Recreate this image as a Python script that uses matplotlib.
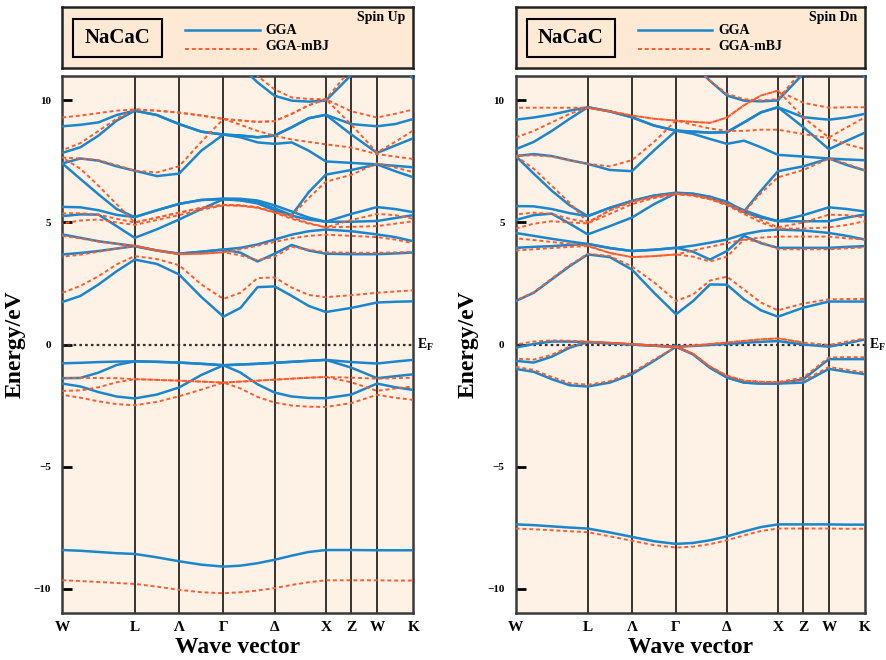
import matplotlib.pyplot as plt
from matplotlib.patches import Rectangle

plt.rcParams['font.family'] = ['Liberation Serif', 'DejaVu Serif']
plt.rcParams['font.weight'] = 'bold'
plt.rcParams['axes.labelweight'] = 'bold'
plt.rcParams['mathtext.fontset'] = 'custom'
plt.rcParams['mathtext.rm'] = 'Liberation Serif:bold'
plt.rcParams['mathtext.bf'] = 'Liberation Serif:bold'

# path W-L-Gamma-X-W-K, distances in 2pi/a
kpath = [0.000, 0.177, 0.354, 0.530, 0.707, 0.924, 1.140, 1.357, 1.573,
         1.740, 1.906, 2.073, 2.240, 2.406, 2.573, 2.823, 3.073, 3.250, 3.427]
sym_pos = [0.000, 0.707, 1.140, 1.573, 2.073, 2.573, 2.823, 3.073, 3.427]
sym_lab = ['W', 'L', 'Λ', 'Γ', 'Δ', 'X', 'Z', 'W', 'K']
TOP = [12.0] * 9   # branch above the window on W-L-Gamma
NA = float('nan')

# ---------------- spin up, GGA ----------------
up_gga_deep = [-8.42, -8.45, -8.5, -8.55, -8.58, -8.72, -8.88, -9.02, -9.1, -9.06, -8.96, -8.82, -8.65, -8.5, -8.42, -8.42, -8.43, -8.43, -8.43]
up_gga_v1 = [-0.77, -0.75, -0.72, -0.70, -0.69, -0.71, -0.74, -0.79, -0.85, -0.82, -0.79, -0.75, -0.71, -0.67, -0.63, -0.72, -0.78, -0.70, -0.63]
up_gga_v2 = [-1.38, -1.37, -1.15, -0.84, -0.69, -0.71, -0.74, -0.79, -0.85, -0.82, -0.79, -0.75, -0.71, -0.67, -0.63, -0.95, -1.38, -1.30, -1.22]
up_gga_v3 = [-1.60, -1.72, -1.95, -2.13, -2.21, -2.05, -1.76, -1.25, -0.85, -1.15, -1.63, -1.97, -2.13, -2.19, -2.20, -2.05, -1.60, -1.75, -1.86]
up_gga_c1 = [1.74, 1.99, 2.46, 3.0, 3.48, 3.3, 2.87, 1.95, 1.14, 1.50, 2.35, 2.38, 1.99, 1.58, 1.33, 1.5, 1.72, 1.75, 1.77]
up_gga_c2 = [3.69, 3.75, 3.83, 3.93, 4.03, 3.85, 3.72, 3.8, 3.89, 3.76, 3.40, 3.72, 4.08, 3.85, 3.72, 3.70, 3.70, 3.73, 3.77]
up_gga_c3 = [4.51, 4.37, 4.23, 4.13, 4.03, 3.85, 3.72, 3.8, 3.89, 3.96, 4.10, 4.30, 4.50, 4.64, 4.71, 4.64, 4.51, 4.4, 4.23]
up_gga_c4 = [5.26, 5.33, 5.32, 4.85, 4.37, 4.72, 5.12, 5.55, 5.95, 5.9, 5.78, 5.5, 5.28, 5.12, 5.03, 5.03, 5.06, 5.18, 5.3]
up_gga_c5 = [5.64, 5.62, 5.50, 5.31, 5.22, 5.5, 5.76, 5.92, 5.98, 5.97, 5.9, 5.7, 5.45, 5.2, 5.03, 5.35, 5.63, 5.55, 5.42]
up_gga_c6 = [7.42, 6.78, 6.15, 5.55, 5.22, 5.5, 5.76, 5.92, 5.95, 5.92, 5.82, 5.58, 5.30, 6.24, 6.96, 7.15, 7.38, 7.1, 6.85]
up_gga_c7 = [7.42, 7.62, 7.53, 7.3, 7.12, 6.9, 7.0, 7.94, 8.6, 8.49, 8.28, 8.22, 8.28, 7.94, 7.5, 7.44, 7.38, 7.32, 7.26]
up_gga_c8 = [7.85, 8.08, 8.56, 9.17, 9.58, 9.4, 9.03, 8.72, 8.6, 8.56, 8.49, 8.56, 8.9, 9.27, 9.41, 8.6, 7.85, 8.15, 8.45]
up_gga_c9 = [8.94, 9.0, 9.1, 9.4, 9.58, 9.4, 9.03, 8.72, 8.6, 8.56, 8.49, 8.56, 8.9, 9.27, 9.41, 9.03, 8.94, 9.03, 9.24]
up_gga_c10 = TOP + [11.4, 10.74, 10.19, 9.99, 9.95, 9.99, 11.05, 12.5, 11.8, 10.87]

# ---------------- spin up, GGA-mBJ ----------------
up_mbj_deep = [-9.66, -9.69, -9.73, -9.77, -9.81, -9.92, -10.05, -10.15, -10.19, -10.15, -10.08, -9.98, -9.85, -9.74, -9.66, -9.66, -9.66, -9.67, -9.67]
up_mbj_v1 = [-1.38, -1.37, -1.37, -1.38, -1.42, -1.45, -1.48, -1.52, -1.56, -1.52, -1.48, -1.44, -1.40, -1.36, -1.33, -1.36, -1.40, -1.38, -1.36]
up_mbj_v2 = [-1.90, -1.88, -1.75, -1.55, -1.42, -1.45, -1.48, -1.52, -1.56, -1.52, -1.48, -1.44, -1.40, -1.36, -1.33, -1.55, -1.90, -1.80, -1.72]
up_mbj_v3 = [-2.06, -2.18, -2.33, -2.44, -2.49, -2.35, -2.12, -1.85, -1.56, -1.8, -2.15, -2.38, -2.5, -2.55, -2.56, -2.40, -2.06, -2.18, -2.27]
up_mbj_c1 = [2.12, 2.4, 2.8, 3.28, 3.62, 3.5, 3.25, 2.46, 1.87, 2.12, 2.72, 2.75, 2.33, 2.03, 1.94, 2.02, 2.12, 2.17, 2.22]
up_mbj_c2 = [3.6, 3.68, 3.8, 3.93, 4.05, 3.85, 3.7, 3.72, 3.78, 3.65, 3.45, 3.6, 4.0, 3.88, 3.78, 3.76, 3.76, 3.77, 3.8]
up_mbj_c3 = [4.45, 4.35, 4.22, 4.12, 4.05, 3.85, 3.7, 3.72, 3.78, 3.9, 4.05, 4.2, 4.35, 4.45, 4.5, 4.45, 4.4, 4.3, 4.15]
up_mbj_c4 = [4.96, 5.08, 5.12, 5.0, 4.9, 5.1, 5.3, 5.52, 5.7, 5.68, 5.6, 5.4, 5.15, 4.95, 4.8, 4.82, 4.85, 4.95, 5.05]
up_mbj_c5 = [5.37, 5.38, 5.32, 5.15, 5.0, 5.2, 5.4, 5.6, 5.72, 5.7, 5.62, 5.42, 5.2, 4.98, 4.8, 5.1, 5.35, 5.3, 5.15]
up_mbj_c6 = [7.66, 7.2, 6.5, 5.75, 5.0, 5.2, 5.4, 5.6, 5.72, 5.7, 5.62, 5.42, 5.28, 6.0, 6.67, 6.95, 7.43, 7.25, 7.06]
up_mbj_c7 = [7.66, 7.62, 7.55, 7.35, 7.12, 7.05, 7.3, 8.3, 9.24, 9.0, 8.75, 8.55, 8.4, 8.3, 8.2, 8.07, 7.8, 7.7, 7.6]
up_mbj_c8 = [7.96, 8.25, 8.75, 9.25, 9.63, 9.58, 9.5, 9.38, 9.24, 9.18, 9.12, 9.15, 9.45, 9.8, 10.05, 9.0, 7.87, 8.3, 8.77]
up_mbj_c9 = [9.3, 9.38, 9.48, 9.58, 9.63, 9.58, 9.5, 9.38, 9.24, 9.18, 9.12, 9.15, 9.45, 9.8, 10.05, 9.55, 9.3, 9.45, 9.63]
up_mbj_c10 = TOP + [11.6, 11.0, 10.45, 10.12, 10.06, 10.05, 11.3, 12.5, 12.0, 11.4]

# ---------------- spin down, GGA ----------------
dn_gga_deep = [-7.37, -7.4, -7.45, -7.5, -7.54, -7.7, -7.88, -8.06, -8.17, -8.13, -8.02, -7.86, -7.66, -7.48, -7.37, -7.37, -7.37, -7.38, -7.38]
dn_gga_v1 = [-0.13, 0.02, 0.12, 0.12, 0.1, 0.05, 0.0, -0.05, -0.09, -0.06, -0.02, 0.02, 0.07, 0.11, 0.14, 0.0, -0.09, 0.05, 0.21]
dn_gga_v2 = [-0.67, -0.74, -0.5, -0.13, 0.1, 0.05, 0.0, -0.05, -0.09, -0.4, -0.95, -1.35, -1.56, -1.6, -1.6, -1.42, -0.6, -0.6, -0.6]
dn_gga_v3 = [-1.0, -1.12, -1.42, -1.67, -1.72, -1.56, -1.22, -0.67, -0.09, -0.4, -0.95, -1.35, -1.56, -1.6, -1.6, -1.56, -1.0, -1.12, -1.22]
dn_gga_c1 = [1.78, 2.12, 2.67, 3.21, 3.69, 3.58, 3.07, 2.12, 1.24, 1.78, 2.46, 2.45, 1.85, 1.4, 1.14, 1.51, 1.76, 1.76, 1.76]
dn_gga_c2 = [3.96, 4.0, 4.03, 4.08, 4.12, 3.95, 3.83, 3.88, 3.96, 3.80, 3.48, 3.83, 4.45, 4.15, 3.96, 3.96, 3.96, 4.0, 4.03]
dn_gga_c3 = [4.57, 4.45, 4.33, 4.22, 4.12, 3.95, 3.83, 3.88, 3.96, 4.05, 4.17, 4.3, 4.52, 4.65, 4.71, 4.67, 4.57, 4.45, 4.3]
dn_gga_c4 = [5.1, 5.3, 5.36, 4.95, 4.51, 4.85, 5.2, 5.75, 6.2, 6.15, 6.0, 5.75, 5.42, 5.2, 5.05, 5.05, 5.05, 5.2, 5.33]
dn_gga_c5 = [5.67, 5.66, 5.55, 5.38, 5.26, 5.6, 5.88, 6.1, 6.22, 6.18, 6.05, 5.8, 5.5, 5.25, 5.05, 5.3, 5.62, 5.55, 5.45]
dn_gga_c6 = [7.72, 7.0, 6.3, 5.7, 5.26, 5.6, 5.88, 6.1, 6.2, 6.17, 6.05, 5.85, 5.45, 6.3, 7.1, 7.3, 7.62, 7.35, 7.13]
dn_gga_c7 = [7.72, 7.8, 7.72, 7.55, 7.4, 7.15, 7.1, 7.95, 8.76, 8.63, 8.42, 8.22, 8.35, 8.08, 7.77, 7.7, 7.62, 7.58, 7.55]
dn_gga_c8 = [8.0, 8.3, 8.75, 9.25, 9.72, 9.55, 9.31, 8.97, 8.76, 8.72, 8.68, 8.7, 9.1, 9.51, 9.72, 8.9, 8.0, 8.35, 8.68]
dn_gga_c9 = [9.21, 9.3, 9.42, 9.58, 9.72, 9.55, 9.31, 8.97, 8.76, 8.72, 8.68, 8.7, 9.1, 9.51, 9.72, 9.31, 9.21, 9.3, 9.45]
dn_gga_c10 = TOP + [11.5, 10.8, 10.2, 9.99, 9.96, 10.0, 11.1, 12.5, 11.8, 10.95]

# ---------------- spin down, GGA-mBJ ----------------
dn_mbj_deep = [-7.54, -7.57, -7.61, -7.65, -7.69, -7.86, -8.04, -8.22, -8.32, -8.28, -8.18, -8.02, -7.82, -7.64, -7.54, -7.54, -7.54, -7.55, -7.55]
dn_mbj_v1 = [0.0, 0.12, 0.17, 0.15, 0.12, 0.07, 0.02, -0.05, -0.1, -0.05, 0.02, 0.08, 0.15, 0.21, 0.25, 0.08, -0.02, 0.12, 0.25]
# second, degenerate branch of the top band between Lambda and Z
dn_mbj_v1b = [NA, NA, NA, NA, NA, NA, 0.02, -0.05, -0.1, -0.05, 0.02, 0.08, 0.15, 0.21, 0.25, 0.08, NA, NA, NA]
dn_mbj_v2 = [-0.58, -0.62, -0.42, -0.08, 0.12, 0.07, 0.02, -0.05, -0.1, -0.38, -0.9, -1.28, -1.48, -1.53, -1.54, -1.35, -0.53, -0.52, -0.52]
dn_mbj_v3 = [-0.92, -1.04, -1.33, -1.58, -1.65, -1.5, -1.15, -0.62, -0.1, -0.38, -0.9, -1.28, -1.48, -1.53, -1.54, -1.48, -0.92, -1.04, -1.15]
dn_mbj_c1 = [1.8, 2.14, 2.7, 3.25, 3.72, 3.62, 3.2, 2.55, 1.78, 2.05, 2.62, 2.78, 2.25, 1.72, 1.4, 1.68, 1.85, 1.86, 1.87]
dn_mbj_c2 = [3.85, 3.9, 3.95, 4.0, 4.03, 3.75, 3.58, 3.62, 3.69, 3.6, 3.4, 3.6, 4.3, 4.2, 3.9, 3.9, 3.9, 3.94, 3.98]
dn_mbj_c3 = [4.35, 4.28, 4.2, 4.12, 4.05, 3.75, 3.58, 3.62, 3.69, 3.85, 4.0, 4.15, 4.3, 4.38, 4.42, 4.42, 4.42, 4.35, 4.3]
dn_mbj_c4 = [4.75, 4.95, 5.05, 5.0, 4.96, 5.35, 5.75, 6.0, 6.15, 6.1, 5.95, 5.7, 5.35, 5.0, 4.75, 4.75, 4.8, 4.9, 5.05]
dn_mbj_c5 = [5.33, 5.4, 5.35, 5.15, 5.0, 5.5, 5.85, 6.05, 6.18, 6.12, 6.0, 5.78, 5.45, 5.1, 4.8, 5.0, 5.32, 5.3, 5.2]
dn_mbj_c6 = [7.73, 7.2, 6.5, 5.8, 5.0, 5.5, 5.85, 6.05, 6.18, 6.1, 5.95, 5.75, 5.42, 6.2, 6.85, 7.15, 7.62, 7.4, 7.13]
dn_mbj_c7 = [7.73, 7.75, 7.7, 7.55, 7.4, 7.3, 7.55, 8.3, 9.18, 9.0, 8.85, 8.75, 8.75, 8.8, 8.8, 8.62, 8.45, 8.2, 8.0]
dn_mbj_c8 = [8.48, 8.75, 9.1, 9.45, 9.7, 9.55, 9.38, 9.25, 9.17, 9.12, 9.08, 9.3, 9.8, 10.2, 10.4, 9.3, 8.48, 8.9, 9.31]
dn_mbj_c9 = [9.7, 9.7, 9.7, 9.7, 9.7, 9.55, 9.38, 9.25, 9.17, 9.12, 9.08, 9.3, 9.8, 10.2, 10.4, 9.9, 9.7, 9.72, 9.72]
dn_mbj_c10 = TOP + [11.5, 10.8, 10.27, 10.05, 10.0, 10.05, 11.3, 12.5, 12.0, 11.8]

up_gga = [up_gga_deep, up_gga_v1, up_gga_v2, up_gga_v3, up_gga_c1, up_gga_c2, up_gga_c3,
          up_gga_c4, up_gga_c5, up_gga_c6, up_gga_c7, up_gga_c8, up_gga_c9, up_gga_c10]
up_mbj = [up_mbj_deep, up_mbj_v1, up_mbj_v2, up_mbj_v3, up_mbj_c1, up_mbj_c2, up_mbj_c3,
          up_mbj_c4, up_mbj_c5, up_mbj_c6, up_mbj_c7, up_mbj_c8, up_mbj_c9, up_mbj_c10]
dn_gga = [dn_gga_deep, dn_gga_v1, dn_gga_v2, dn_gga_v3, dn_gga_c1, dn_gga_c2, dn_gga_c3,
          dn_gga_c4, dn_gga_c5, dn_gga_c6, dn_gga_c7, dn_gga_c8, dn_gga_c9, dn_gga_c10]
dn_mbj = [dn_mbj_deep, dn_mbj_v1, dn_mbj_v1b, dn_mbj_v2, dn_mbj_v3, dn_mbj_c1, dn_mbj_c2,
          dn_mbj_c3, dn_mbj_c4, dn_mbj_c5, dn_mbj_c6, dn_mbj_c7, dn_mbj_c8, dn_mbj_c9, dn_mbj_c10]

BLUE = '#1c86cc'
RED = '#ff5a2c'
PANEL_BG = '#fdf2e5'
HEAD_BG = '#fde9d4'


def band_panel(ax, gga, mbj):
    ax.set_facecolor(PANEL_BG)
    for k in sym_pos[1:-1]:
        ax.axvline(k, color='k', lw=1.1, zorder=1)
    ax.axhline(0, color='#333333', lw=1.6, ls=(0, (1.2, 1.4)), zorder=2)
    for b in gga:
        ax.plot(kpath, b, color=BLUE, lw=1.8, zorder=3)
    for i, b in enumerate(mbj):
        ax.plot(kpath, b, color=RED, lw=1.4, ls=(i * 1.75 % 3.5, (2.0, 1.5)), zorder=4)
    ax.set_xlim(0, kpath[-1])
    ax.set_ylim(-11, 11)
    ax.set_xticks(sym_pos)
    ax.set_xticklabels(sym_lab, fontsize=11)
    ax.tick_params(axis='x', length=0, pad=6)
    ax.set_yticks([-10, -5, 0, 5, 10])
    ax.set_yticklabels(['\u221210', '\u22125', '0', '5', '10'], fontsize=8)
    ax.tick_params(axis='y', direction='in', length=7, width=2, pad=8)
    for s in ax.spines.values():
        s.set_linewidth(1.8)
        s.set_color('#3a3a3a')
    ax.set_xlabel('Wave vector', fontsize=17, fontweight='bold', labelpad=2)
    ax.set_ylabel('Energy/eV', fontsize=17, fontweight='bold', labelpad=6)
    ax.annotate('E$_{\\rm F}$', xy=(1, 0), xycoords=('axes fraction', 'data'),
                xytext=(3, 0), textcoords='offset points', fontsize=10, va='center')


def header(ax, spin):
    ax.set_facecolor(HEAD_BG)
    ax.set_xlim(0, 352)
    ax.set_ylim(61, 0)
    ax.set_xticks([])
    ax.set_yticks([])
    for s in ax.spines.values():
        s.set_linewidth(1.8)
        s.set_color('#222222')
    ax.add_patch(Rectangle((11, 12), 89, 38, fill=False, lw=1.5, ec='k'))
    ax.text(55.5, 31, 'NaCaC', fontsize=15, ha='center', va='center')
    ax.plot([123, 198], [23, 23], color=BLUE, lw=1.8)
    ax.plot([123, 198], [42, 42], color=RED, lw=1.4, ls=(0, (2.0, 1.5)))
    ax.text(204, 23, 'GGA', fontsize=10, va='center')
    ax.text(204, 40, 'GGA-mBJ', fontsize=10, va='center')
    ax.text(344, 11, spin, fontsize=10, ha='right', va='center')


W, H = 887, 660
fig = plt.figure(figsize=(W / 100, H / 100), dpi=100)
ax1 = fig.add_axes([62.3 / W, 47 / H, 351 / W, 537 / H])
ax2 = fig.add_axes([515.7 / W, 47 / H, 349.3 / W, 537 / H])
h1 = fig.add_axes([62.3 / W, 592 / H, 351 / W, 61 / H])
h2 = fig.add_axes([515.7 / W, 592 / H, 349.3 / W, 61 / H])

band_panel(ax1, up_gga, up_mbj)
band_panel(ax2, dn_gga, dn_mbj)
header(h1, 'Spin Up')
header(h2, 'Spin Dn')

fig.savefig('out.png', dpi=100)
